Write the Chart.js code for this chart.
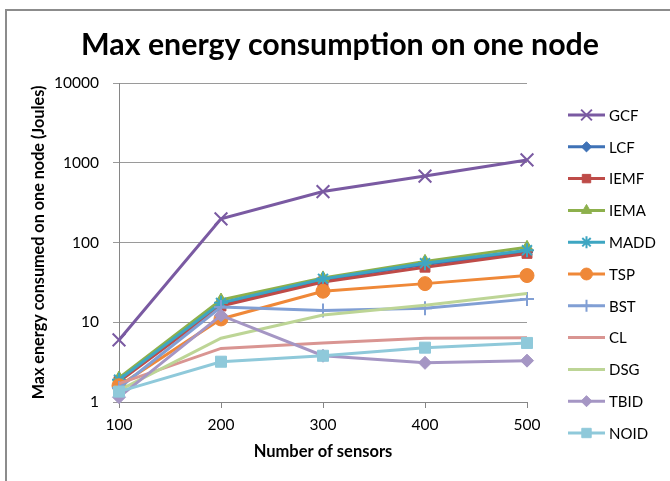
<!DOCTYPE html>
<html>
<head>
<meta charset="utf-8">
<script src="https://cdn.jsdelivr.net/npm/chart.js@4/dist/chart.umd.min.js"></script>
<style>
  html, body { margin: 0; padding: 0; background: #fff; }
  #wrap { width: 670px; height: 481px; }
</style>
</head>
<body>
<div id="wrap"><canvas id="c" width="670" height="481"></canvas></div>
<script>
// ---- data ----
const sensors = [100, 200, 300, 400, 500];
const yTicks = [1, 10, 100, 1000, 10000];
const seriesNames = ['GCF', 'LCF', 'IEMF', 'IEMA', 'MADD', 'TSP', 'BST', 'CL', 'DSG', 'TBID', 'NOID'];
const GCF  = [6, 198, 435, 680, 1085];
const LCF  = [1.9, 17, 34, 53, 76];
const IEMF = [1.8, 16, 32, 49, 73];
const IEMA = [2.0, 19, 36, 58, 87];
const MADD = [1.9, 17.5, 35, 55, 80];
const TSP  = [1.6, 11, 24.5, 30.5, 38.5];
const BST  = [1.5, 15.5, 14, 15, 19.5];
const CL   = [1.7, 4.7, 5.5, 6.3, 6.4];
const DSG  = [1.4, 6.3, 12.3, 16.3, 23];
const TBID = [1.15, 12.2, 3.8, 3.1, 3.3];
const NOID = [1.35, 3.2, 3.8, 4.8, 5.5];
const seriesValues = [GCF, LCF, IEMF, IEMA, MADD, TSP, BST, CL, DSG, TBID, NOID];

// ---- styles ----
const colors = ['#7a5aa2', '#3f72b6', '#be4b48', '#8db04c', '#3ea6c2', '#ef8838',
                '#819fd4', '#d99592', '#bdd596', '#a596c4', '#8fc9da'];
const styles = ['crossRot', 'rectRot', 'rect', 'triangle', 'star', 'circle',
                'cross', false, false, 'rectRot', 'rect'];
const radii = [9, 6, 7, 7, 7, 7, 7, 0, 0, 6.5, 7.8];

const FONT = 'Lato, "Liberation Sans", sans-serif';

const datasets = seriesNames.map((name, i) => ({
  label: name,
  data: sensors.map((x, j) => ({ x: x, y: seriesValues[i][j] })),
  borderColor: colors[i],
  backgroundColor: colors[i],
  pointBackgroundColor: colors[i],
  pointBorderColor: colors[i],
  pointStyle: styles[i],
  pointRadius: radii[i],
  pointBorderWidth: (styles[i] === 'crossRot' || styles[i] === 'star' || styles[i] === 'cross') ? 2 : 1,
  borderWidth: 3,
  tension: 0,
  fill: false,
  clip: false,
  order: -i
}));

const framePlugin = {
  id: 'frame',
  beforeDraw(chart) {
    const ctx = chart.ctx;
    ctx.save();
    ctx.fillStyle = '#fff';
    ctx.fillRect(0, 0, chart.width, chart.height);
    ctx.strokeStyle = '#8c8c8c';
    ctx.lineWidth = 2;
    ctx.strokeRect(6, 10, 700, 500);
    ctx.restore();
  },
  afterDraw(chart) {
    const ctx = chart.ctx;
    ctx.save();
    // title
    let size = 30;
    ctx.font = 'bold ' + size + 'px ' + FONT;
    const text = 'Max energy consumption on one node';
    const w = ctx.measureText(text).width;
    size = size * 518 / w;
    ctx.font = 'bold ' + size + 'px ' + FONT;
    ctx.fillStyle = '#000';
    ctx.textAlign = 'center';
    ctx.textBaseline = 'alphabetic';
    ctx.fillText(text, 340, 55);
    // legend
    ctx.textAlign = 'left';
    ctx.textBaseline = 'middle';
    ctx.font = '15px ' + FONT;
    chart.data.datasets.forEach((ds, i) => {
      const y = 115 + i * 31.8;
      ctx.strokeStyle = ds.borderColor;
      ctx.lineWidth = 3;
      ctx.beginPath();
      ctx.moveTo(568, y);
      ctx.lineTo(605, y);
      ctx.stroke();
      if (ds.pointStyle && Chart.helpers && Chart.helpers.drawPoint) {
        ctx.fillStyle = ds.pointBackgroundColor;
        ctx.strokeStyle = ds.pointBorderColor;
        ctx.lineWidth = ds.pointBorderWidth;
        Chart.helpers.drawPoint(ctx, { pointStyle: ds.pointStyle, radius: ds.pointRadius * 0.85, rotation: 0, borderWidth: ds.pointBorderWidth }, 586.5, y);
      }
      ctx.fillStyle = '#000';
      ctx.fillText(ds.label, 609, y + 1);
    });
    ctx.restore();
  }
};

new Chart(document.getElementById('c'), {
  type: 'line',
  data: { datasets: datasets },
  plugins: [framePlugin],
  options: {
    responsive: false,
    animation: false,
    devicePixelRatio: 1,
    layout: { padding: { left: 0, right: 143, top: 83, bottom: 0 } },
    plugins: { legend: { display: false }, title: { display: false }, tooltip: { enabled: false } },
    scales: {
      x: {
        type: 'linear', min: 100, max: 500,
        ticks: { stepSize: 100, color: '#000', font: { family: FONT, size: 15.5 }, padding: 8 },
        grid: { drawOnChartArea: false, tickLength: 6, color: '#868686' },
        border: { color: '#868686', width: 1 },
        title: { display: true, text: 'Number of sensors', color: '#000',
                 font: { family: FONT, size: 16.5, weight: 'bold' }, padding: { top: 0, bottom: 19 } },
        afterFit(s) { s.height = 79; }
      },
      y: {
        type: 'logarithmic', min: 1, max: 10000,
        afterBuildTicks(s) { s.ticks = yTicks.map(v => ({ value: v })); },
        ticks: { color: '#000', font: { family: FONT, size: 15.5 }, padding: 14,
                 callback: v => String(v) },
        grid: { tickLength: 6, color: '#9a9a9a' },
        border: { color: '#868686', width: 1 },
        title: { display: true, text: 'Max energy consumed on one node (Joules)', color: '#000',
                 font: { family: FONT, size: 16.2, weight: 'bold' }, padding: { top: 29, bottom: 0 } },
        afterFit(s) { s.width = 119; }
      }
    }
  }
});
</script>
</body>
</html>
